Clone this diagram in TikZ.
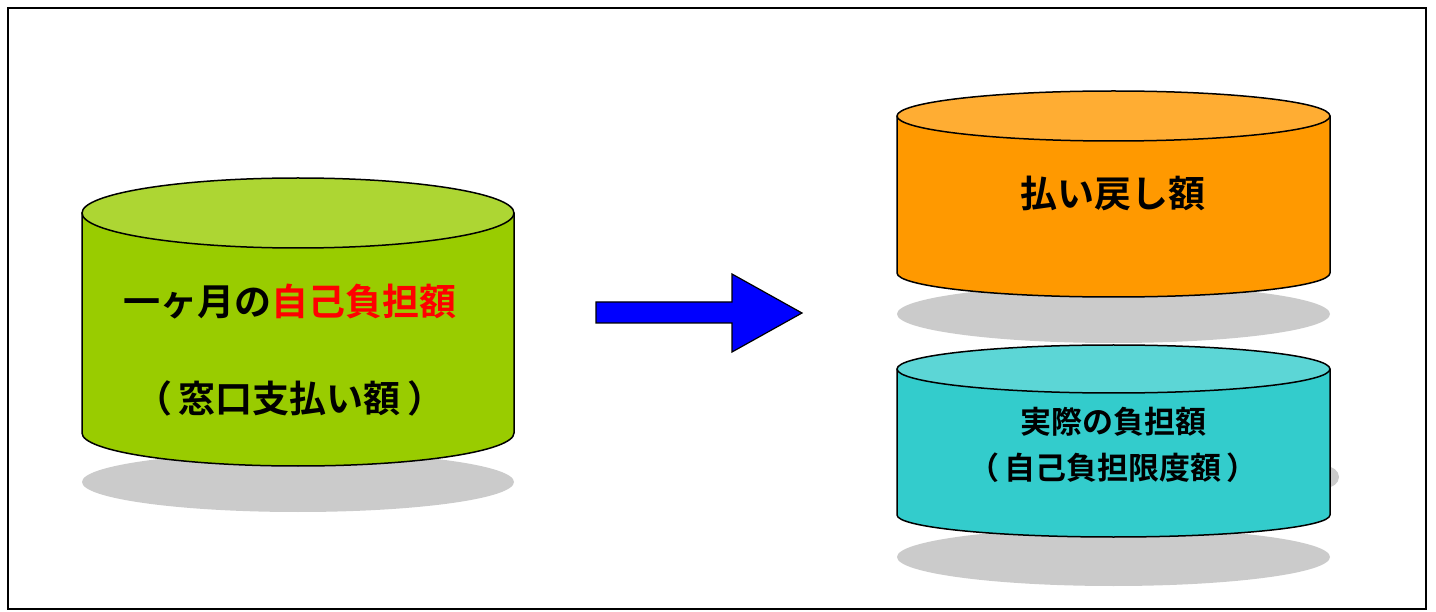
\documentclass[tikz,border=0pt]{standalone}
\usepackage{fontspec}
\newfontfamily\jpfont{Noto Sans CJK JP}[BoldFont={Noto Sans CJK JP Bold}]
\definecolor{drumgreen}{HTML}{99CC00}
\definecolor{drumgreentop}{HTML}{ADD633}
\definecolor{drumorange}{HTML}{FF9900}
\definecolor{drumorangetop}{HTML}{FFAD33}
\definecolor{drumteal}{HTML}{33CCCC}
\definecolor{drumtealtop}{HTML}{5CD6D6}
\definecolor{shadowgray}{HTML}{CBCBCB}
\tikzset{
  drum/.style={draw=black, line width=1.5pt, line join=round},
  shadowfill/.style={fill=shadowgray},
  drumtext/.style={font=\jpfont\bfseries\fontsize{37}{44}\selectfont, inner sep=0pt},
  smalltext/.style={font=\jpfont\bfseries\fontsize{31}{38}\selectfont, inner sep=0pt},
  blockarrow/.style={draw=black, fill=blue, line width=1.2pt, line join=miter},
}
\begin{document}
\begin{tikzpicture}[x=1pt,y=-1pt]

        \useasboundingbox (0,0) rectangle (1436,612);
        \draw[line width=2.2pt] (8,8) rectangle (1426,609);

        % shadows
        \path[shadowfill] (298,482)    ellipse[x radius=216, y radius=30];
        \path[shadowfill] (1113.5,314) ellipse[x radius=216.5, y radius=29];
        \path[shadowfill] (1113.5,557) ellipse[x radius=216.5, y radius=29];
        \path[shadowfill] (1325,477)   ellipse[x radius=14, y radius=11];

        % left drum
        \path[drum, fill=drumgreen] (82,213) -- (82,433)
          arc[start angle=180, end angle=0, x radius=216, y radius=33] -- (514,213) -- cycle;
        \path[drum, fill=drumgreentop] (298,213) ellipse[x radius=216, y radius=35];

        % upper right drum
        \path[drum, fill=drumorange] (897,116) -- (897,273)
          arc[start angle=180, end angle=0, x radius=216.5, y radius=24] -- (1330,116) -- cycle;
        \path[drum, fill=drumorangetop] (1113.5,116) ellipse[x radius=216.5, y radius=25];

        % lower right drum
        \path[drum, fill=drumteal] (897,369) -- (897,515)
          arc[start angle=180, end angle=0, x radius=216.5, y radius=22] -- (1330,369) -- cycle;
        \path[drum, fill=drumtealtop] (1113.5,369) ellipse[x radius=216.5, y radius=24];

        % arrow
        \draw[blockarrow] (596,302) -- (732,302) -- (732,274) -- (802,313)
          -- (732,352) -- (732,323) -- (596,323) -- cycle;

        % texts
        \node[drumtext] (monthly) at (290,302) {一ヶ月の\textcolor{red}{自己負担額}};
        \node[drumtext] (window)  at (290,398) {（\,窓口支払い額\,）};
        \node[drumtext] (refund)  at (1113,193) {払い戻し額};
        \node[smalltext] (actual) at (1113,422) {実際の負担額};
        \node[smalltext] (limit)  at (1113,468) {（\,自己負担限度額\,）};

      \end{tikzpicture}
\end{document}
